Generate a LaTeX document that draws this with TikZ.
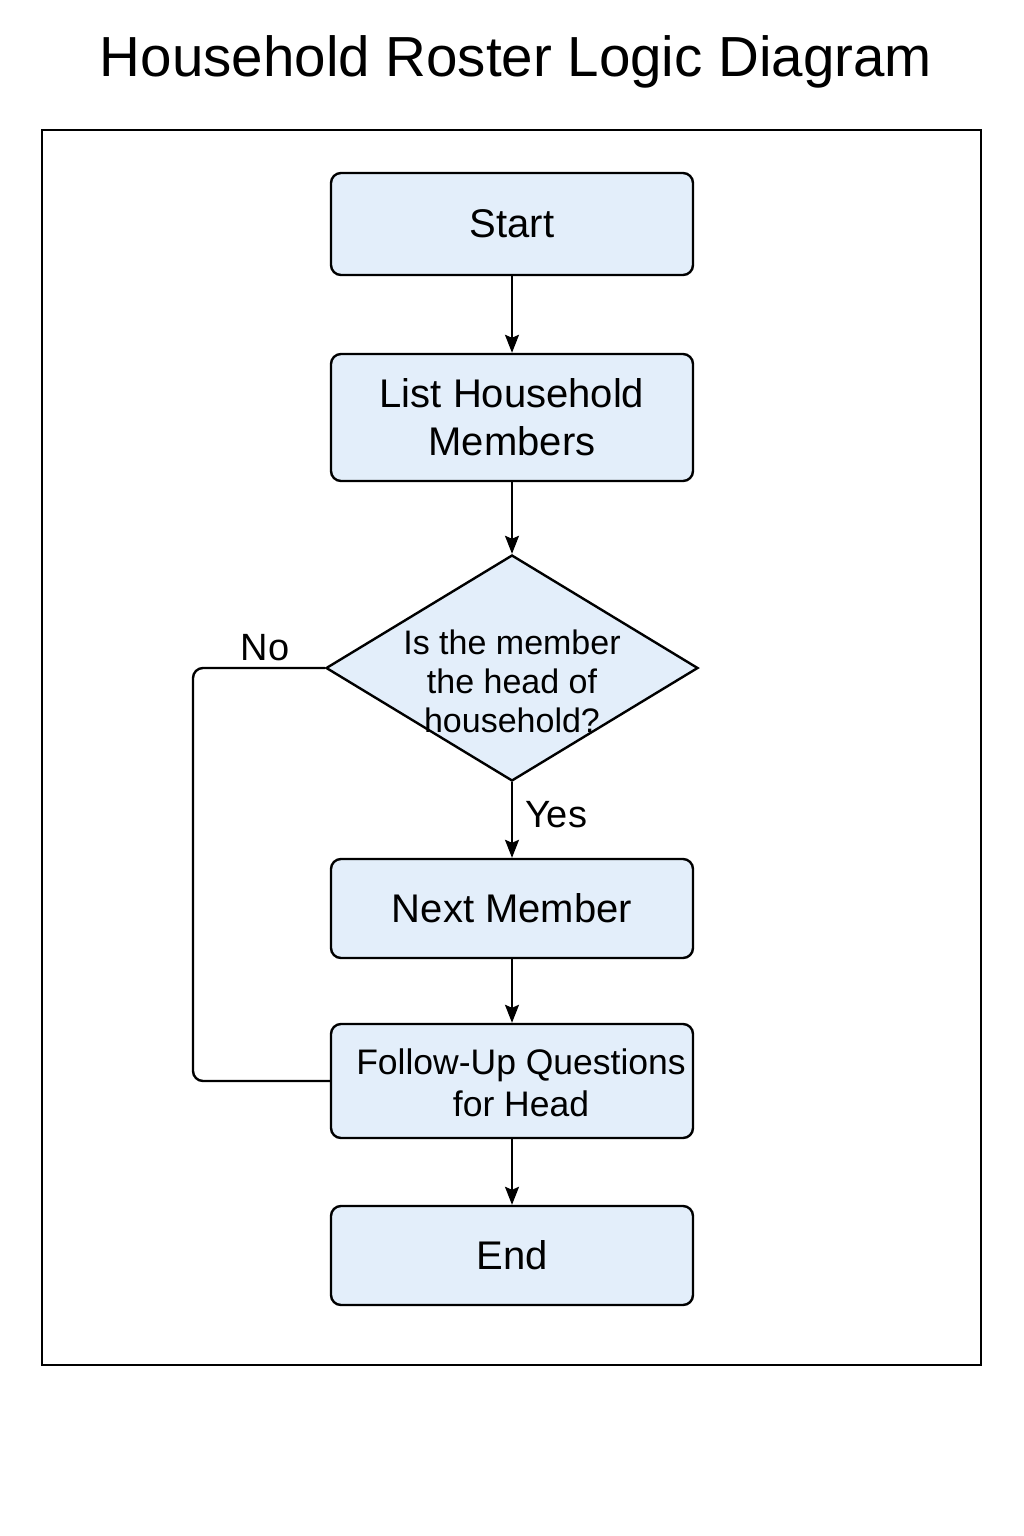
\documentclass[tikz,border=0pt]{standalone}
\usepackage{fontspec}
\setmainfont{Liberation Sans}
\usetikzlibrary{shapes.geometric,arrows.meta}
\definecolor{boxfill}{HTML}{E3EEFA}
\begin{document}
\begin{tikzpicture}[x=1pt,y=-1pt,
  procbox/.style={draw=black,line width=2.4pt,fill=boxfill,rounded corners=10pt,
    minimum width=362pt,inner sep=0pt,align=center,font=\fontsize{40}{48}\selectfont},
  decbox/.style={draw=black,line width=2.4pt,fill=boxfill,diamond,
    minimum width=372pt,minimum height=226pt,inner sep=0pt},
  arr/.style={line width=2pt,-{Stealth[length=18pt,width=14pt,inset=3pt]}},
  conn/.style={line width=2.4pt,rounded corners=10pt},
  lbl/.style={font=\fontsize{38}{44}\selectfont,inner sep=0pt}]
\useasboundingbox (0,0) rectangle (1024,1536);
\fill[white] (0,0) rectangle (1024,1536);
\node[font=\fontsize{56.5}{62}\selectfont] (title) at (516,62) {Household Roster Logic Diagram};
\draw[line width=2.2pt] (42,130) rectangle (981,1365);
\node[procbox,minimum height=102pt] (start) at (512,224) {Start};
\node[procbox,minimum height=127pt] (list) at (512,417.5) {List Household\\Members};
\node[decbox] (dec) at (512,668) {};
\node[align=center,font=\fontsize{34}{39}\selectfont,inner sep=0pt] (dectext) at (512,681) {Is the member\\the head of\\household?};
\node[procbox,minimum height=99pt] (next) at (512,908.5) {Next Member};
\node[procbox,minimum height=114pt] (follow) at (512,1081) {};
\node[align=center,font=\fontsize{35.5}{42}\selectfont,inner sep=0pt] (followtext) at (521,1083) {Follow-Up Questions\\for Head};
\node[procbox,minimum height=99pt] (end) at (512,1255.5) {End};
\draw[arr] (start.south) -- (list.north);
\draw[arr] (list.south) -- (dec.north);
\draw[arr] (dec.south) -- (next.north);
\draw[arr] (next.south) -- (follow.north);
\draw[arr] (follow.south) -- (end.north);
\coordinate (c1) at (193,668);
\draw[conn] (dec.west) -- (c1) |- (follow.west);
\node[lbl] (no) at (265,648) {No};
\node[lbl] (yes) at (556,815) {Yes};
\end{tikzpicture}
\end{document}
